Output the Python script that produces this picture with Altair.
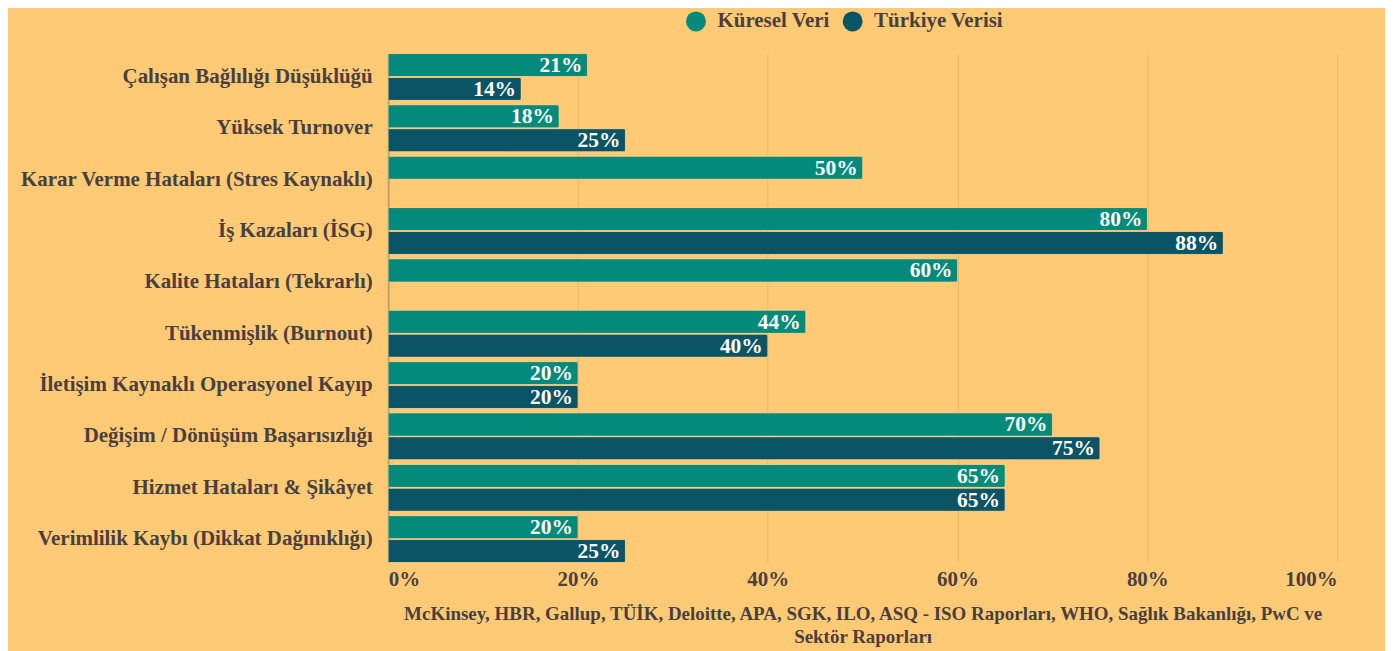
import altair as alt
import pandas as pd

categories = [
    "Çalışan Bağlılığı Düşüklüğü",
    "Yüksek Turnover",
    "Karar Verme Hataları (Stres Kaynaklı)",
    "İş Kazaları (İSG)",
    "Kalite Hataları (Tekrarlı)",
    "Tükenmişlik (Burnout)",
    "İletişim Kaynaklı Operasyonel Kayıp",
    "Değişim / Dönüşüm Başarısızlığı",
    "Hizmet Hataları & Şikâyet",
    "Verimlilik Kaybı (Dikkat Dağınıklığı)",
]
kuresel = [21, 18, 50, 80, 60, 44, 20, 70, 65, 20]
turkiye = [14, 25, None, 88, None, 40, 20, 75, 65, 25]
series = ["Küresel Veri", "Türkiye Verisi"]
colors = ["#048A7A", "#0A5466"]
source_lines = [
    "McKinsey, HBR, Gallup, TÜİK, Deloitte, APA, SGK, ILO, ASQ - ISO Raporları, WHO, Sağlık Bakanlığı, PwC ve",
    "Sektör Raporları",
]

rows = []
for c, k, t in zip(categories, kuresel, turkiye):
    rows.append({"cat": c, "series": series[0], "value": k})
    if t is not None:
        rows.append({"cat": c, "series": series[1], "value": t})
df = pd.DataFrame(rows)
df["label"] = df["value"].astype(int).astype(str) + "%"
df["frac"] = df["value"] / 100.0

FONT = "Liberation Serif"
TXT = "#4A3F3F"

y_enc = alt.Y("cat:N", sort=categories, title=None,
              scale=alt.Scale(paddingInner=0.09, paddingOuter=0.0),
              axis=alt.Axis(labelFont=FONT, labelFontSize=21, labelFontWeight="bold",
                            labelColor=TXT, labelPadding=16, ticks=False,
                            domainColor="#C9A064", domainWidth=2, labelLimit=600))
yoff = alt.YOffset("series:N", sort=series, scale=alt.Scale(paddingInner=0.04))
x_enc = alt.X("frac:Q", scale=alt.Scale(domain=[0, 1]),
              title=source_lines,
              axis=alt.Axis(format=".0%", values=[0, 0.2, 0.4, 0.6, 0.8, 1.0],
                            labelFont=FONT, labelFontSize=21, labelFontWeight="bold",
                            labelColor=TXT, labelPadding=6, ticks=False, domain=False,
                            gridColor="#E8B86A", gridWidth=1,
                            titleFont=FONT, titleFontSize=19, titleFontWeight="bold",
                            titleColor=TXT, titlePadding=15, titleLineHeight=23))

bars = alt.Chart(df).mark_bar(cornerRadiusEnd=2, stroke="#FFE0A8", strokeWidth=0.5, strokeOpacity=0.5).encode(
    y=y_enc,
    yOffset=yoff,
    x=x_enc,
    color=alt.Color("series:N", sort=series,
                    scale=alt.Scale(domain=series, range=colors),
                    legend=alt.Legend(orient="none", legendX=298, legendY=-43,
                                      direction="horizontal", title=None, symbolType="circle",
                                      symbolSize=400, symbolStrokeWidth=0,
                                      labelFont=FONT, labelFontSize=21, labelFontWeight="bold",
                                      labelColor=TXT, columnPadding=12,
                                      labelOffset=11)),
)

labels = alt.Chart(df).mark_text(align="right", baseline="middle", dx=-5, dy=1,
                                  font=FONT, fontSize=21.5, fontWeight="bold",
                                  color="white").encode(
    y=alt.Y("cat:N", sort=categories),
    yOffset=yoff,
    x=alt.X("frac:Q"),
    text="label:N",
)

chart = (bars + labels).properties(
    width=951, height=510, background="#FFCA76",
    padding={"left": 11, "right": 48, "top": 2, "bottom": 10},
).configure_view(stroke=None)

chart.save("out.html", embed_options={"renderer": "svg", "actions": False})
